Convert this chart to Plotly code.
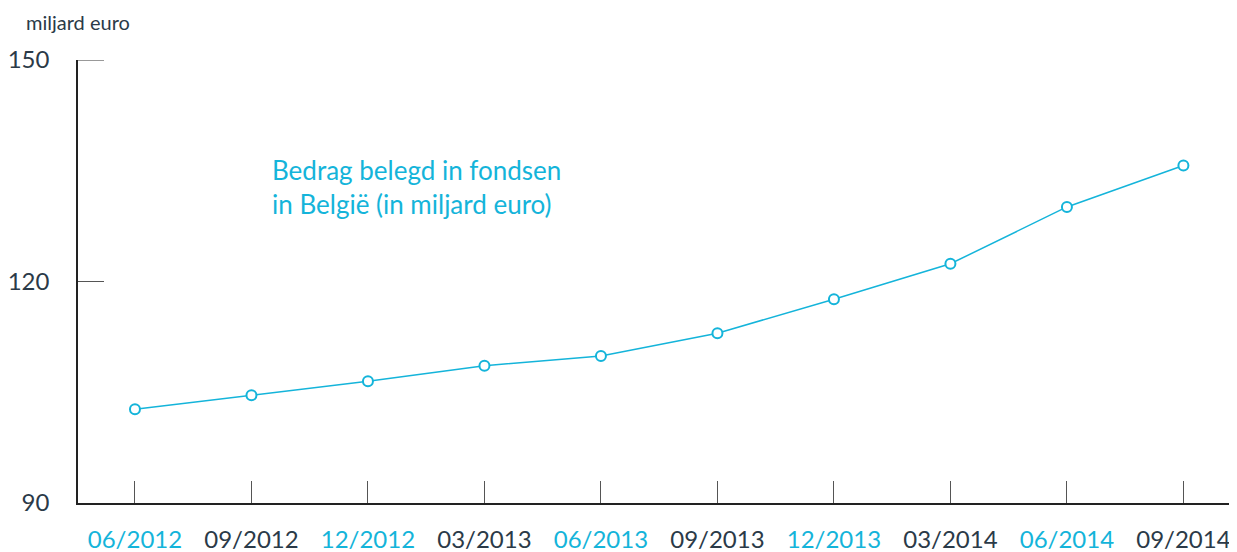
import plotly.graph_objects as go

categories = ["06/2012", "09/2012", "12/2012", "03/2013", "06/2013",
              "09/2013", "12/2013", "03/2014", "06/2014", "09/2014"]
values = [102.7, 104.6, 106.5, 108.6, 109.9, 113.0, 117.6, 122.4, 130.1, 135.7]
highlight = [True, False, True, False, True, False, True, False, True, False]
y_ticks = [90, 120, 150]

CYAN = "#14b4da"
DARK = "#2b3a48"
FONT = "Lato"

xs = list(range(len(categories)))
ticktext = [f"<span style='color:{CYAN if h else DARK}'>{c}</span>" for c, h in zip(categories, highlight)]

fig = go.Figure()
fig.add_trace(go.Scatter(
    x=xs, y=values, mode="lines+markers",
    line=dict(color=CYAN, width=1.5),
    marker=dict(symbol="circle", size=10, color="white", line=dict(color=CYAN, width=2)),
    hoverinfo="skip", showlegend=False, cliponaxis=False,
))

fig.add_annotation(
    xref="x", yref="y", x=1.16, y=137.6, xanchor="left", yanchor="top",
    text="Bedrag belegd in fondsen<br>in België (in miljard euro)",
    showarrow=False, align="left",
    font=dict(family=FONT, size=26, color=CYAN),
)
fig.add_annotation(
    xref="paper", yref="paper", x=-0.047, y=1.0, xanchor="left", yanchor="bottom", yshift=24,
    text="miljard euro", showarrow=False,
    font=dict(family=FONT, size=20, color=DARK),
)

# top tick mark at 150 (plotly drops the inside tick at the range edge)
fig.add_shape(
    type="line", xref="paper", yref="y", x0=0, x1=26 / 1159, y0=y_ticks[-1], y1=y_ticks[-1],
    line=dict(color="#555", width=1.2),
)

fig.update_layout(
    width=1229, height=544,
    margin=dict(l=70, r=0, t=52, b=49),
    paper_bgcolor="white", plot_bgcolor="white",
    font=dict(family=FONT, color=DARK),
    xaxis=dict(
        range=[-0.489, 9.46], tickvals=xs, ticktext=ticktext,
        showgrid=False, zeroline=False,
        showline=True, linecolor="#222", linewidth=1.5,
        ticks="inside", ticklen=22, tickcolor="#555", tickwidth=1.2,
        tickfont=dict(family=FONT, size=24, color=DARK),
        ticklabelstandoff=14,
    ),
    yaxis=dict(
        range=[90, 150], tickvals=y_ticks,
        showgrid=False, zeroline=False,
        showline=True, linecolor="#222", linewidth=1.5,
        ticks="inside", ticklen=26, tickcolor="#555", tickwidth=1.2,
        tickfont=dict(family=FONT, size=24, color=DARK),
        ticklabelstandoff=22,
    ),
)

fig.write_html("out.html")
